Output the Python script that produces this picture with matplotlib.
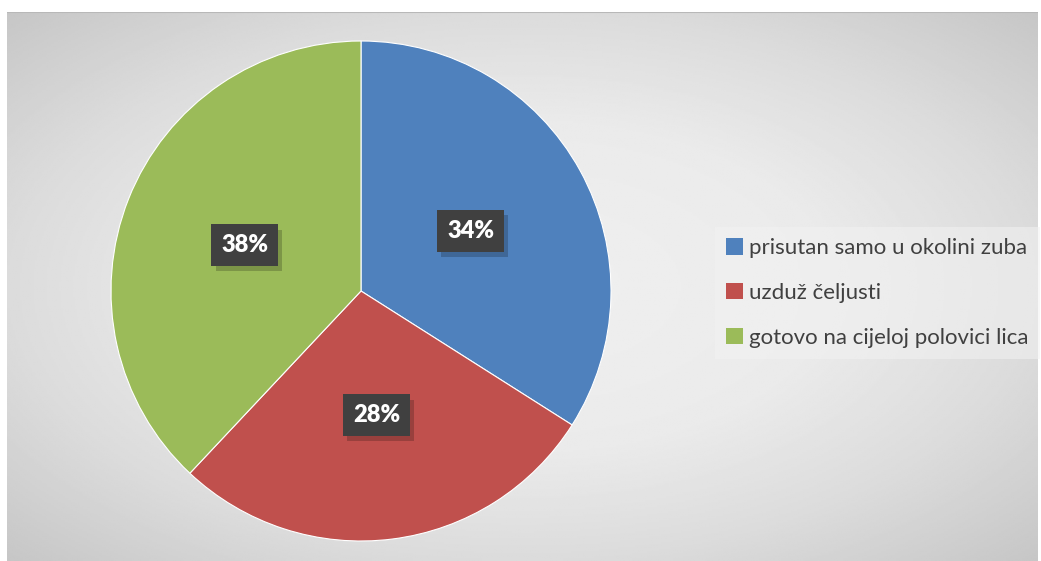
import numpy as np
import matplotlib
matplotlib.use("Agg")
from matplotlib import pyplot as plt
from matplotlib.patches import Patch
import matplotlib.patheffects as pe

labels = ["prisutan samo u okolini zuba", "uzduž čeljusti", "gotovo na cijeloj polovici lica"]
shares = [34, 28, 38]
colors = ["#4f81bd", "#c0504d", "#9bbb59"]

W, H = 1041, 561
fig = plt.figure(figsize=(W / 100, H / 100), dpi=100)
fig.patch.set_facecolor("white")

# chart area with radial grey gradient
x0, y0, x1, y1 = 7, 12, 1038, 561
bg = fig.add_axes([x0 / W, 1 - y1 / H, (x1 - x0) / W, (y1 - y0) / H])
yy, xx = np.mgrid[-1:1:300j, -1:1:600j]
d = np.sqrt(xx ** 2 + yy ** 2)
shade = np.interp(d, [0, 0.6, 1.0, 1.45], [0.94, 0.92, 0.86, 0.77])
bg.imshow(shade, cmap="gray", vmin=0, vmax=1, aspect="auto", extent=[0, 1, 0, 1])
bg.axhline(1, color="#b8b8b8", lw=1.5)
bg.set_xlim(0, 1)
bg.set_ylim(0, 1)
bg.axis("off")

# pie
cx, cy, r = 361, 291, 250
ax = fig.add_axes([(cx - r) / W, 1 - (cy + r) / H, 2 * r / W, 2 * r / H])
wedges, _, autotexts = ax.pie(shares, colors=colors, startangle=90, counterclock=False,
                              autopct="%d%%", pctdistance=0.5,
                              wedgeprops=dict(linewidth=0.8, edgecolor="white"),
                              textprops=dict(color="white", fontsize=17, fontweight="heavy",
                                             family=["Lato", "DejaVu Sans"]))
ax.set_xlim(-1, 1)
ax.set_ylim(-1, 1)
ax.set_aspect("equal")
ax.axis("off")
for t in autotexts:
    t.set_bbox(dict(boxstyle="square,pad=0.42", facecolor="#404040", edgecolor="none"))
    t.get_bbox_patch().set_path_effects([
        pe.SimplePatchShadow(offset=(3, -4), shadow_rgbFace="black", alpha=0.2),
        pe.Normal()])

handles = [Patch(facecolor=c, edgecolor="none") for c in colors]
leg = fig.legend(handles, labels, loc="upper left",
                 bbox_to_anchor=(715 / W, 1 - 227 / H),
                 frameon=True, fancybox=False, facecolor="#f2f2f2", edgecolor="none",
                 framealpha=0.55, prop=dict(family=["Lato", "DejaVu Sans"], size=16),
                 labelcolor="#404040", handlelength=0.75, handleheight=0.75,
                 handletextpad=0.3, labelspacing=1.12, borderpad=0.5, borderaxespad=0)

fig.savefig("out.png", dpi=100)
